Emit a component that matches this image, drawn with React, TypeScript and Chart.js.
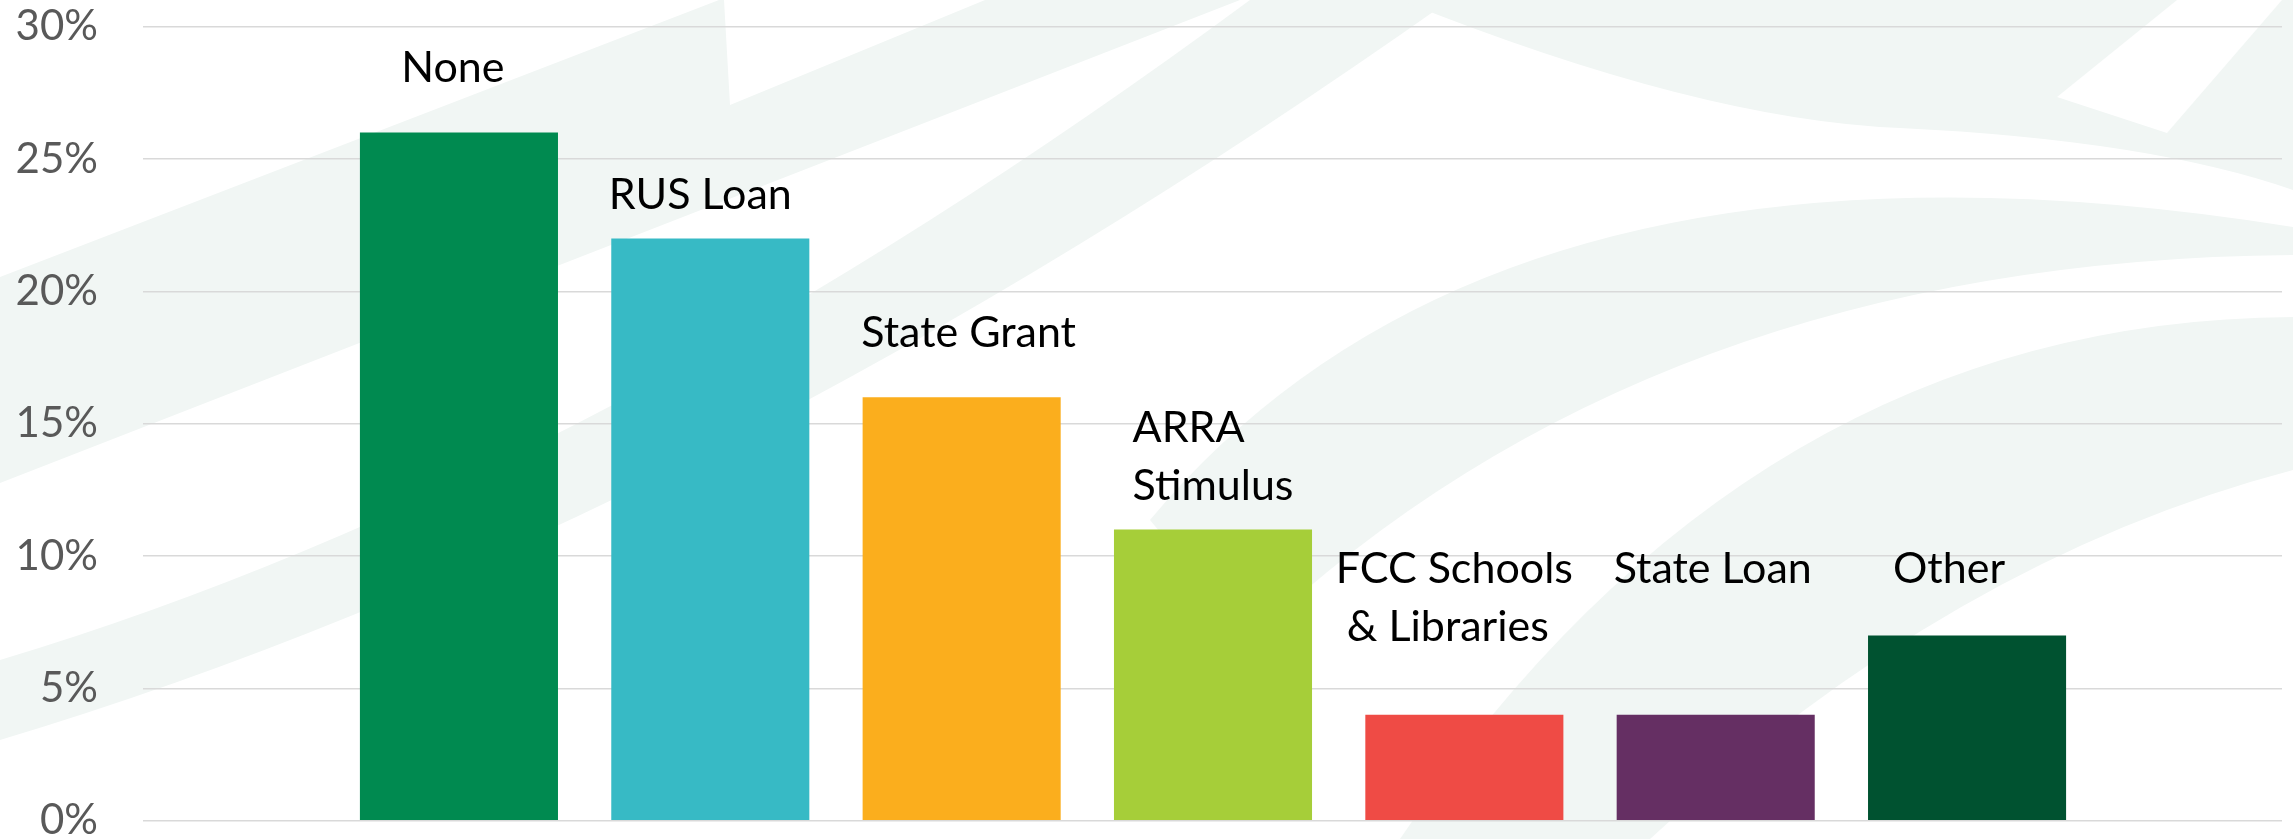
import React, { useEffect, useRef } from 'react';
import { Chart, registerables } from 'chart.js';

Chart.register(...registerables);

// ---- data ----
const categories = ['None', 'RUS Loan', 'State Grant', 'ARRA Stimulus', 'FCC Schools & Libraries', 'State Loan', 'Other'];
const shares = [26, 22, 16, 11, 4, 4, 7];
const barColors = ['#008A50', '#37BAC5', '#FBAE1D', '#A6CE39', '#EF4B45', '#652F63', '#005230'];
const labelLines = [['None'], ['RUS Loan'], ['State Grant'], ['ARRA', 'Stimulus'], ['FCC Schools', ' & Libraries'], ['State Loan'], ['Other']];
// baseline of each label's first line, in axis units (%)
const labelBaselinePct = [27.9, 23.1, 17.9, 14.3, 9.0, 9.0, 9.0];
// small horizontal nudges of the hand-placed label boxes (px)
const labelNudgePx = [-6, -10, 7, 0, -10, -3, -18];
const yTickMin = 0;
const yTickMax = 30;
const yTickStep = 5;

const W = 2293;
const H = 839;
const PALE = '#F1F6F4';

function drawSwooshes(ctx: CanvasRenderingContext2D) {
  ctx.save();
  ctx.fillStyle = '#FFFFFF';
  ctx.fillRect(0, 0, W, H);
  ctx.fillStyle = PALE;
  // band A (left, with notch)
  ctx.beginPath();
  ctx.moveTo(0, 277);
  ctx.lineTo(719, 0);
  ctx.lineTo(724, 0);
  ctx.lineTo(730, 105);
  ctx.lineTo(985, 0);
  ctx.lineTo(1240, 0);
  ctx.lineTo(0, 483);
  ctx.closePath();
  ctx.fill();
  // band B
  ctx.beginPath();
  ctx.moveTo(0, 660);
  ctx.quadraticCurveTo(600, 480, 1250, 0);
  ctx.lineTo(1450, 0);
  ctx.quadraticCurveTo(700, 530, 0, 740);
  ctx.closePath();
  ctx.fill();
  // top-right region
  ctx.beginPath();
  ctx.moveTo(1400, 0);
  ctx.quadraticCurveTo(1700, 120, 1900, 128);
  ctx.quadraticCurveTo(2150, 140, W, 190);
  ctx.lineTo(W, 0);
  ctx.closePath();
  ctx.fill();
  // band C
  ctx.beginPath();
  ctx.moveTo(1150, 520);
  ctx.quadraticCurveTo(1500, 100, W, 227);
  ctx.lineTo(W, 255);
  ctx.quadraticCurveTo(1650, 260, 1250, 640);
  ctx.closePath();
  ctx.fill();
  // band D
  ctx.beginPath();
  ctx.moveTo(1400, H);
  ctx.quadraticCurveTo(1750, 320, W, 317);
  ctx.lineTo(W, 470);
  ctx.quadraticCurveTo(1950, 560, 1650, H);
  ctx.closePath();
  ctx.fill();
  // white leaf
  ctx.fillStyle = '#FFFFFF';
  ctx.beginPath();
  ctx.moveTo(2057, 97);
  ctx.lineTo(2177, 0);
  ctx.lineTo(2282, 0);
  ctx.lineTo(2167, 133);
  ctx.closePath();
  ctx.fill();
  ctx.restore();
}

const backgroundPlugin = {
  id: 'swooshBackground',
  beforeDraw(chart: any) {
    drawSwooshes(chart.ctx);
  },
};

const labelPlugin = {
  id: 'barNameLabels',
  afterDatasetsDraw(chart: any) {
    const ctx: CanvasRenderingContext2D = chart.ctx;
    const meta = chart.getDatasetMeta(0);
    const yScale = chart.scales.y;
    ctx.save();
    ctx.font = '43px Lato';
    ctx.fillStyle = '#000000';
    ctx.textAlign = 'left';
    ctx.textBaseline = 'alphabetic';
    labelLines.forEach((lines, i) => {
      const bar = meta.data[i];
      if (!bar) return;
      const w = Math.max(...lines.map((l) => ctx.measureText(l).width));
      const x0 = bar.x - w / 2 + labelNudgePx[i];
      const base = yScale.getPixelForValue(labelBaselinePct[i]);
      lines.forEach((l, j) => ctx.fillText(l, x0, base + j * 58));
    });
    ctx.restore();
  },
};

export default function App() {
  const canvasRef = useRef<HTMLCanvasElement | null>(null);

  useEffect(() => {
    document.body.style.margin = '0';
    const canvas = canvasRef.current;
    if (!canvas) return;
    const chart = new Chart(canvas, {
      type: 'bar',
      data: {
        labels: categories,
        datasets: [
          {
            label: 'Share',
            data: shares.map((v, i) => ({ x: i, y: v })),
            backgroundColor: barColors,
            borderWidth: 0,
            categoryPercentage: 1,
            barPercentage: 0.788,
          },
        ],
      },
      options: {
        animation: false,
        responsive: false,
        devicePixelRatio: 1,
        layout: { padding: { left: 0, right: W - 2282, top: 26.7, bottom: H - 820.7 } },
        plugins: { legend: { display: false }, tooltip: { enabled: false } },
        scales: {
          x: {
            type: 'linear',
            display: false,
            offset: false,
            min: -1.257,
            max: categories.length - 1 + 1.253,
            grid: { display: false },
            ticks: { stepSize: 1, includeBounds: false },
          },
          y: {
            min: yTickMin,
            max: yTickMax,
            border: { display: false },
            grid: { color: '#D9D9D9', lineWidth: 1.5, drawTicks: false },
            ticks: {
              stepSize: yTickStep,
              padding: 45,
              color: '#595959',
              font: { family: 'Lato', size: 42, lineHeight: 0.8 },
              callback: (v: any) => `${v}%`,
            },
            afterFit: (scale: any) => {
              scale.width = 143;
              scale.paddingTop = 0;
              scale.paddingBottom = 0;
            },
          },
        },
      },
      plugins: [backgroundPlugin, labelPlugin],
    });
    return () => chart.destroy();
  }, []);

  return (
    <div style={{ width: W, height: H }}>
      <canvas ref={canvasRef} width={W} height={H} style={{ width: W, height: H, display: 'block' }} />
    </div>
  );
}
